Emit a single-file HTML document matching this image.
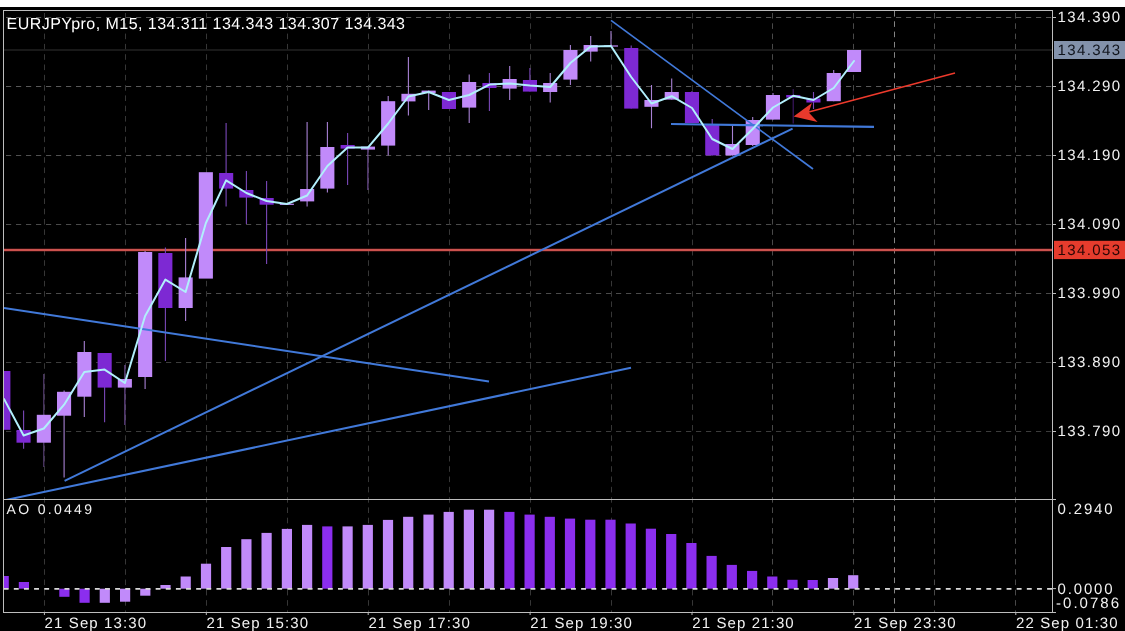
<!DOCTYPE html>
<html lang="en"><head><meta charset="utf-8"><title>EURJPYpro, M15</title>
<style>html,body{margin:0;padding:0;background:#000;overflow:hidden}svg{display:block}text{text-rendering:geometricPrecision;font-family:"Liberation Sans",sans-serif;fill:#f2f2f2}</style></head><body>
<svg width="1125" height="631" viewBox="0 0 1125 631">
<rect width="1125" height="631" fill="#000"/>
<rect width="1125" height="7" fill="#fff"/>
<defs><clipPath id="main"><rect x="4" y="11" width="1048.5" height="488"/></clipPath><clipPath id="ao"><rect x="4" y="500" width="1048.5" height="112"/></clipPath></defs>
<g stroke-width="1" stroke-dasharray="5.2 4.8" fill="none">
<path d="M6 17.5H1052.5" stroke="#545454"/>
<path d="M6 86.5H1052.5" stroke="#585858"/>
<path d="M6 155.5H1052.5" stroke="#505050"/>
<path d="M6 224.5H1052.5" stroke="#4a4a4a"/>
<path d="M6 293.5H1052.5" stroke="#4a4a4a"/>
<path d="M6 362.5H1052.5" stroke="#3c3c3c"/>
<path d="M6 431.5H1052.5" stroke="#3c3c3c"/>
</g>
<g stroke-width="1" stroke-dasharray="5.6 4.7" fill="none">
<path d="M44.5 13V612" stroke="#363636"/>
<path d="M125.5 13V612" stroke="#363636"/>
<path d="M206.5 13V612" stroke="#363636"/>
<path d="M287.5 13V612" stroke="#363636"/>
<path d="M368.5 13V612" stroke="#363636"/>
<path d="M449.5 13V612" stroke="#363636"/>
<path d="M530.5 13V612" stroke="#363636"/>
<path d="M611.5 13V612" stroke="#363636"/>
<path d="M692.5 13V612" stroke="#363636"/>
<path d="M772.5 13V612" stroke="#494949"/>
<path d="M853.5 13V612" stroke="#494949"/>
<path d="M934.5 13V612" stroke="#494949"/>
<path d="M1015.5 13V612" stroke="#494949"/>
</g>
<path d="M894.5 11V612" stroke="#848484" stroke-width="1" stroke-dasharray="5.6 4.7" fill="none"/>
<path d="M4 50H1052.5" stroke="#222" stroke-width="1.4"/>
<path d="M4 250H1052.5" stroke="#bd3a38" stroke-width="2.7"/>
<path d="M4 250H1052.5" stroke="#df726c" stroke-width="0.9"/>
<g clip-path="url(#main)">
<rect x="-3.7" y="371.0" width="14.1" height="58.8" fill="#7d29d3"/>
<path d="M23.6 410.4V448.8" stroke="#7a48b8" stroke-width="1.1"/>
<rect x="16.5" y="430.0" width="14.1" height="12.7" fill="#7d29d3"/>
<path d="M43.8 374.0V467.0" stroke="#5e447c" stroke-width="1.1"/>
<rect x="36.8" y="414.8" width="14.1" height="27.9" fill="#c18afa"/>
<path d="M64.1 390.5V477.5" stroke="#a881d4" stroke-width="1.1"/>
<rect x="57.0" y="391.8" width="14.1" height="23.9" fill="#c18afa"/>
<path d="M84.3 341.0V417.0" stroke="#a881d4" stroke-width="1.1"/>
<rect x="77.3" y="352.0" width="14.1" height="44.7" fill="#c18afa"/>
<path d="M104.6 353.0V422.3" stroke="#7a48b8" stroke-width="1.1"/>
<rect x="97.6" y="353.0" width="14.1" height="34.6" fill="#7d29d3"/>
<path d="M124.9 365.0V425.0" stroke="#7a55a4" stroke-width="1.1"/>
<rect x="117.8" y="379.0" width="14.1" height="8.6" fill="#c18afa"/>
<path d="M145.1 251.0V389.0" stroke="#a881d4" stroke-width="1.1"/>
<rect x="138.1" y="252.0" width="14.1" height="125.0" fill="#c18afa"/>
<path d="M165.4 247.6V361.0" stroke="#7a48b8" stroke-width="1.1"/>
<rect x="158.3" y="253.0" width="14.1" height="55.0" fill="#7d29d3"/>
<path d="M185.6 238.0V321.0" stroke="#a881d4" stroke-width="1.1"/>
<rect x="178.6" y="277.4" width="14.1" height="30.6" fill="#c18afa"/>
<rect x="198.8" y="172.2" width="14.1" height="106.4" fill="#c18afa"/>
<path d="M226.1 123.0V206.6" stroke="#7a48b8" stroke-width="1.1"/>
<rect x="219.1" y="173.0" width="14.1" height="15.6" fill="#7d29d3"/>
<path d="M246.4 171.0V224.0" stroke="#7a48b8" stroke-width="1.1"/>
<rect x="239.3" y="190.0" width="14.1" height="7.6" fill="#7d29d3"/>
<path d="M266.6 181.0V264.0" stroke="#7a48b8" stroke-width="1.1"/>
<rect x="259.6" y="198.0" width="14.1" height="6.7" fill="#7d29d3"/>
<rect x="279.8" y="203.7" width="14.1" height="1.2" fill="#c18afa"/>
<path d="M307.1 122.0V206.6" stroke="#a881d4" stroke-width="1.1"/>
<rect x="300.1" y="189.0" width="14.1" height="12.4" fill="#c18afa"/>
<path d="M327.4 122.0V192.6" stroke="#a881d4" stroke-width="1.1"/>
<rect x="320.3" y="147.0" width="14.1" height="41.6" fill="#c18afa"/>
<path d="M347.6 133.0V185.0" stroke="#7a48b8" stroke-width="1.1"/>
<rect x="340.6" y="145.0" width="14.1" height="3.6" fill="#7d29d3"/>
<path d="M367.9 146.6V190.0" stroke="#7a55a4" stroke-width="1.1"/>
<rect x="360.9" y="146.6" width="14.1" height="3.0" fill="#c18afa"/>
<path d="M388.2 96.0V155.4" stroke="#a881d4" stroke-width="1.1"/>
<rect x="381.1" y="101.2" width="14.1" height="44.4" fill="#c18afa"/>
<path d="M408.4 57.0V115.6" stroke="#a881d4" stroke-width="1.1"/>
<rect x="401.4" y="93.8" width="14.1" height="7.6" fill="#c18afa"/>
<path d="M428.7 90.6V110.0" stroke="#a881d4" stroke-width="1.1"/>
<rect x="421.6" y="90.6" width="14.1" height="2.4" fill="#c18afa"/>
<rect x="441.9" y="92.0" width="14.1" height="17.0" fill="#7d29d3"/>
<path d="M469.2 74.4V123.0" stroke="#a881d4" stroke-width="1.1"/>
<rect x="462.1" y="82.0" width="14.1" height="25.6" fill="#c18afa"/>
<path d="M489.4 73.0V111.0" stroke="#7a48b8" stroke-width="1.1"/>
<rect x="482.4" y="83.0" width="14.1" height="5.0" fill="#7d29d3"/>
<path d="M509.7 66.0V100.0" stroke="#a881d4" stroke-width="1.1"/>
<rect x="502.6" y="79.0" width="14.1" height="9.6" fill="#c18afa"/>
<path d="M529.9 68.0V91.6" stroke="#7a48b8" stroke-width="1.1"/>
<rect x="522.9" y="80.0" width="14.1" height="11.6" fill="#7d29d3"/>
<path d="M550.2 73.0V102.6" stroke="#a881d4" stroke-width="1.1"/>
<rect x="543.1" y="83.0" width="14.1" height="9.0" fill="#c18afa"/>
<path d="M570.4 45.0V85.0" stroke="#a881d4" stroke-width="1.1"/>
<rect x="563.4" y="50.0" width="14.1" height="29.6" fill="#c18afa"/>
<path d="M590.7 36.0V61.6" stroke="#a881d4" stroke-width="1.1"/>
<rect x="583.6" y="45.0" width="14.1" height="6.6" fill="#c18afa"/>
<path d="M611.0 31.0V46.6" stroke="#a881d4" stroke-width="1.1"/>
<rect x="603.9" y="45.4" width="14.1" height="1.2" fill="#c18afa"/>
<path d="M631.2 45.6V108.6" stroke="#7a48b8" stroke-width="1.1"/>
<rect x="624.2" y="48.0" width="14.1" height="60.6" fill="#7d29d3"/>
<path d="M651.5 85.0V128.2" stroke="#a881d4" stroke-width="1.1"/>
<rect x="644.4" y="100.0" width="14.1" height="6.8" fill="#c18afa"/>
<path d="M671.7 78.4V99.6" stroke="#a881d4" stroke-width="1.1"/>
<rect x="664.7" y="92.0" width="14.1" height="7.6" fill="#c18afa"/>
<path d="M692.0 91.0V123.0" stroke="#7a48b8" stroke-width="1.1"/>
<rect x="684.9" y="92.0" width="14.1" height="31.0" fill="#7d29d3"/>
<path d="M712.2 119.0V155.4" stroke="#7a48b8" stroke-width="1.1"/>
<rect x="705.2" y="125.0" width="14.1" height="30.4" fill="#7d29d3"/>
<path d="M732.5 125.0V155.4" stroke="#a881d4" stroke-width="1.1"/>
<rect x="725.4" y="144.0" width="14.1" height="11.4" fill="#c18afa"/>
<path d="M752.7 117.0V146.0" stroke="#a881d4" stroke-width="1.1"/>
<rect x="745.7" y="120.0" width="14.1" height="25.0" fill="#c18afa"/>
<path d="M773.0 93.0V119.6" stroke="#a881d4" stroke-width="1.1"/>
<rect x="765.9" y="95.0" width="14.1" height="24.6" fill="#c18afa"/>
<path d="M793.2 89.0V123.5" stroke="#401869" stroke-width="1.1"/>
<rect x="786.2" y="95.0" width="14.1" height="2.6" fill="#7d29d3"/>
<path d="M813.5 92.0V109.0" stroke="#7a48b8" stroke-width="1.1"/>
<rect x="806.4" y="98.5" width="14.1" height="4.0" fill="#7d29d3"/>
<path d="M833.7 70.0V101.2" stroke="#a881d4" stroke-width="1.1"/>
<rect x="826.7" y="73.0" width="14.1" height="28.2" fill="#c18afa"/>
<rect x="847.0" y="50.0" width="14.1" height="22.0" fill="#c18afa"/>
</g>
<g stroke="#4179d9" stroke-width="2.0" fill="none" clip-path="url(#main)">
<path d="M64.6 480.8L792.6 128.6"/>
<path d="M4 500.4L631 367.8"/>
<path d="M4 308L489 381.5"/>
<path d="M611 20.4L813 169" stroke-width="1.7"/>
<path d="M671 124L874 126.8" stroke-width="2.2"/>
</g>
<polyline points="4.0,399.0 23.6,435.5 43.8,428.5 64.1,404.7 84.3,372.0 104.6,369.6 124.9,383.0 145.1,316.0 165.4,279.6 185.6,292.0 205.9,223.0 226.1,180.4 246.4,193.0 266.6,201.0 286.9,204.0 307.1,195.5 327.4,166.0 347.6,147.6 367.9,147.6 388.2,123.5 408.4,96.5 428.7,92.0 448.9,100.0 469.2,95.0 489.4,84.6 509.7,83.6 529.9,85.6 550.2,87.0 570.4,63.0 590.7,46.5 611.0,46.0 631.2,77.0 651.5,103.5 671.7,96.2 692.0,108.0 712.2,139.0 732.5,149.0 752.7,129.0 773.0,107.5 793.2,95.8 813.5,100.0 833.7,88.0 854.0,61.0" fill="none" stroke="#b1effb" stroke-width="2.0" stroke-linejoin="round" stroke-linecap="round" clip-path="url(#main)"/>
<path d="M955 73L806 112.8" stroke="#ee3a2c" stroke-width="1.5" fill="none"/>
<path d="M793.6 116.4L811.9 103L808.8 112.4L817.6 122Z" fill="#e8392c"/>
<g clip-path="url(#ao)">
<rect x="-1.4" y="576.0" width="10.2" height="12.7" fill="#8b2eee"/>
<rect x="18.8" y="582.0" width="10.2" height="6.7" fill="#8b2eee"/>
<rect x="59.3" y="588.7" width="10.2" height="8.1" fill="#8b2eee"/>
<rect x="79.5" y="588.7" width="10.2" height="14.1" fill="#8b2eee"/>
<rect x="99.7" y="588.7" width="10.2" height="14.1" fill="#c18afa"/>
<rect x="120.0" y="588.7" width="10.2" height="13.0" fill="#c18afa"/>
<rect x="140.2" y="588.7" width="10.2" height="7.0" fill="#c18afa"/>
<rect x="160.4" y="585.0" width="10.2" height="3.7" fill="#c18afa"/>
<rect x="180.6" y="576.5" width="10.2" height="12.2" fill="#c18afa"/>
<rect x="200.9" y="563.7" width="10.2" height="25.0" fill="#c18afa"/>
<rect x="221.1" y="547.0" width="10.2" height="41.7" fill="#c18afa"/>
<rect x="241.3" y="539.2" width="10.2" height="49.5" fill="#c18afa"/>
<rect x="261.5" y="532.9" width="10.2" height="55.8" fill="#c18afa"/>
<rect x="281.8" y="528.9" width="10.2" height="59.8" fill="#c18afa"/>
<rect x="302.0" y="524.9" width="10.2" height="63.8" fill="#c18afa"/>
<rect x="322.2" y="526.4" width="10.2" height="62.3" fill="#8b2eee"/>
<rect x="342.5" y="526.4" width="10.2" height="62.3" fill="#c18afa"/>
<rect x="362.7" y="524.9" width="10.2" height="63.8" fill="#c18afa"/>
<rect x="382.9" y="519.9" width="10.2" height="68.8" fill="#c18afa"/>
<rect x="403.1" y="516.8" width="10.2" height="71.9" fill="#c18afa"/>
<rect x="423.4" y="514.6" width="10.2" height="74.1" fill="#c18afa"/>
<rect x="443.6" y="511.9" width="10.2" height="76.8" fill="#c18afa"/>
<rect x="463.8" y="509.7" width="10.2" height="79.0" fill="#c18afa"/>
<rect x="484.0" y="509.7" width="10.2" height="79.0" fill="#c18afa"/>
<rect x="504.3" y="511.9" width="10.2" height="76.8" fill="#8b2eee"/>
<rect x="524.5" y="514.6" width="10.2" height="74.1" fill="#8b2eee"/>
<rect x="544.7" y="516.8" width="10.2" height="71.9" fill="#8b2eee"/>
<rect x="564.9" y="518.6" width="10.2" height="70.1" fill="#8b2eee"/>
<rect x="585.2" y="519.7" width="10.2" height="69.0" fill="#8b2eee"/>
<rect x="605.4" y="519.7" width="10.2" height="69.0" fill="#8b2eee"/>
<rect x="625.6" y="523.5" width="10.2" height="65.2" fill="#8b2eee"/>
<rect x="645.8" y="528.7" width="10.2" height="60.0" fill="#8b2eee"/>
<rect x="666.1" y="534.0" width="10.2" height="54.7" fill="#8b2eee"/>
<rect x="686.3" y="543.0" width="10.2" height="45.7" fill="#8b2eee"/>
<rect x="706.5" y="555.9" width="10.2" height="32.8" fill="#8b2eee"/>
<rect x="726.7" y="564.9" width="10.2" height="23.8" fill="#8b2eee"/>
<rect x="747.0" y="570.9" width="10.2" height="17.8" fill="#8b2eee"/>
<rect x="767.2" y="576.5" width="10.2" height="12.2" fill="#8b2eee"/>
<rect x="787.4" y="579.8" width="10.2" height="8.9" fill="#8b2eee"/>
<rect x="807.6" y="580.0" width="10.2" height="8.7" fill="#8b2eee"/>
<rect x="827.9" y="578.0" width="10.2" height="10.7" fill="#c18afa"/>
<rect x="848.1" y="575.2" width="10.2" height="13.5" fill="#c18afa"/>
</g>
<path d="M3.7 588.9H1053" stroke="#dadada" stroke-width="1.8" stroke-dasharray="4.9 5.23" fill="none"/>
<g stroke="#bdbdbd" stroke-width="1" fill="none">
<path d="M3.5 10.5V612.5"/>
<path d="M3 10.5H1053"/>
<path d="M1052.5 10.5V612.5"/>
<path d="M3 499.5H1056"/>
<path d="M1052.5 588.6H1056"/>
<path d="M3 612.5H1056"/>
<path d="M1052.5 17.5H1056"/>
<path d="M1052.5 86.5H1056"/>
<path d="M1052.5 155.5H1056"/>
<path d="M1052.5 224.5H1056"/>
<path d="M1052.5 293.5H1056"/>
<path d="M1052.5 362.5H1056"/>
<path d="M1052.5 431.5H1056"/>
<path d="M44.4 612.5V615"/>
<path d="M206.3 612.5V615"/>
<path d="M368.2 612.5V615"/>
<path d="M530.1 612.5V615"/>
<path d="M692.0 612.5V615"/>
<path d="M853.9 612.5V615"/>
<path d="M1015.8 612.5V615"/>
</g>
<rect x="1054" y="41" width="71" height="18" fill="#8392ab"/>
<rect x="1054" y="240.8" width="71" height="18.3" fill="#e63c2d"/>
<text x="1057.6" y="21.9" font-size="15" textLength="62.4" lengthAdjust="spacing">134.390</text>
<text x="1057.6" y="90.9" font-size="15" textLength="62.4" lengthAdjust="spacing">134.290</text>
<text x="1057.6" y="159.9" font-size="15" textLength="62.4" lengthAdjust="spacing">134.190</text>
<text x="1057.6" y="228.9" font-size="15" textLength="62.4" lengthAdjust="spacing">134.090</text>
<text x="1057.6" y="297.9" font-size="15" textLength="62.4" lengthAdjust="spacing">133.990</text>
<text x="1057.6" y="366.9" font-size="15" textLength="62.4" lengthAdjust="spacing">133.890</text>
<text x="1057.6" y="435.9" font-size="15" textLength="62.4" lengthAdjust="spacing">133.790</text>
<text x="1057.6" y="54.5" font-size="15" textLength="62.4" lengthAdjust="spacing" style="fill:#10141c">134.343</text>
<text x="1057.6" y="254.5" font-size="15" textLength="62.4" lengthAdjust="spacing" style="fill:#2a0605">134.053</text>
<text x="1057.6" y="513.8" font-size="15" textLength="55" lengthAdjust="spacing">0.2940</text>
<text x="1057.6" y="593.9" font-size="15" textLength="55" lengthAdjust="spacing">0.0000</text>
<text x="1056" y="608.4" font-size="15" textLength="63" lengthAdjust="spacing">-0.0786</text>
<text x="44.6" y="628.3" font-size="15" textLength="101.5" lengthAdjust="spacing">21 Sep 13:30</text>
<text x="206.5" y="628.3" font-size="15" textLength="101.5" lengthAdjust="spacing">21 Sep 15:30</text>
<text x="368.4" y="628.3" font-size="15" textLength="101.5" lengthAdjust="spacing">21 Sep 17:30</text>
<text x="530.3" y="628.3" font-size="15" textLength="101.5" lengthAdjust="spacing">21 Sep 19:30</text>
<text x="692.2" y="628.3" font-size="15" textLength="101.5" lengthAdjust="spacing">21 Sep 21:30</text>
<text x="854.1" y="628.3" font-size="15" textLength="101.5" lengthAdjust="spacing">21 Sep 23:30</text>
<text x="1016.0" y="628.3" font-size="15" textLength="101.5" lengthAdjust="spacing">22 Sep 01:30</text>
<text x="6.6" y="29.3" font-size="16" textLength="398.4" lengthAdjust="spacing" style="fill:#fff">EURJPYpro, M15, 134.311 134.343 134.307 134.343</text>
<text x="6.6" y="513.7" font-size="14" textLength="85.4" lengthAdjust="spacing">AO 0.0449</text>
</svg></body></html>
